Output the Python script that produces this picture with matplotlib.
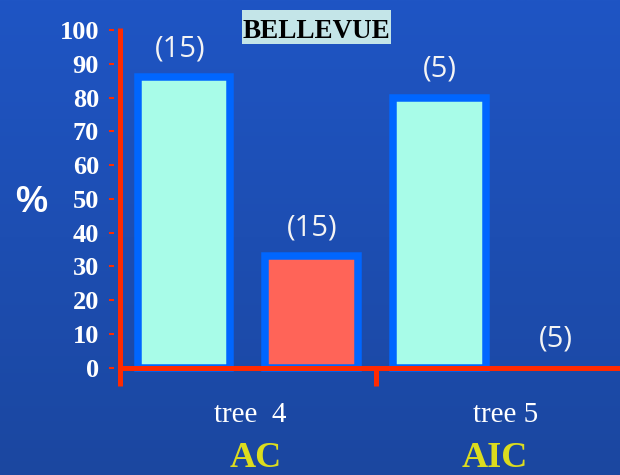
import numpy as np
import matplotlib
matplotlib.use("Agg")
import matplotlib.pyplot as plt
from matplotlib.patches import Rectangle
from matplotlib.transforms import blended_transform_factory

# --- data ---------------------------------------------------------------
bar_values = [86, 33, 80, 0]                 # percent
bar_counts = ["(15)", "(15)", "(5)", "(5)"]  # number of cases per bar
group_labels = ["tree  4", "tree 5"]
group_tags = ["AC", "AIC"]
y_ticks = [0, 10, 20, 30, 40, 50, 60, 70, 80, 90, 100]
title = "BELLEVUE"

# --- style --------------------------------------------------------------
W, H = 620, 475
DPI = 100
PX = 72.0 / DPI  # points per pixel

bg_top = np.array([31, 85, 196]) / 255
bg_bot = np.array([27, 71, 160]) / 255
axis_red = "#ff2a00"
edge_blue = "#0066ff"
fills = ["#a8fce8", "#ff6458", "#a8fce8", "#a8fce8"]
yellow = "#dcdc1e"

fig = plt.figure(figsize=(W / DPI, H / DPI), dpi=DPI)

# vertical background gradient
bg = fig.add_axes([0, 0, 1, 1], zorder=-10)
grad = np.linspace(0, 1, 256)[:, None, None]
img = bg_top[None, None, :] * (1 - grad) + bg_bot[None, None, :] * grad
bg.imshow(img, aspect="auto", extent=[0, 1, 0, 1])
bg.set_axis_off()

# plot area in pixels: left 109, right 620, top 28, bottom 386
ax = fig.add_axes([109 / W, 1 - 386 / H, (620 - 109) / W, (386 - 28) / H])
ax.patch.set_alpha(0)
ax.set_xlim(-0.587, 3.414)
ax.set_ylim(-5.42, 100.6)
for s in ax.spines.values():
    s.set_visible(False)

x = np.arange(len(bar_values))
lws = [7.5 * PX if v > 0 else 0 for v in bar_values]
ax.bar(x, bar_values, width=0.724, color=fills, edgecolor=edge_blue,
       linewidth=lws, zorder=2)

# count labels above the bars (the empty bar's label sits a bit to the left)
label_dx = [-3, 0, 0, -8]
for xi, v, c, dx in zip(x, bar_values, bar_counts, label_dx):
    ax.annotate(c, (xi, v), xytext=(dx, 15), textcoords="offset points",
                ha="center", va="baseline", color="#f4f4f4",
                fontsize=21, family="Open Sans", zorder=5)

# axes drawn as thick red lines
ax.plot([-0.5, -0.5], [-5.42, 100.6], color=axis_red, lw=5 * PX,
        solid_capstyle="butt", clip_on=False, zorder=4)
ax.plot([-0.52, 3.414], [0, 0], color=axis_red, lw=5 * PX,
        solid_capstyle="butt", clip_on=False, zorder=4)
ax.plot([1.5, 1.5], [-5.42, 0], color=axis_red, lw=5 * PX,
        solid_capstyle="butt", clip_on=False, zorder=4)

ax.set_yticks(y_ticks)
ax.set_xticks([])
ax.tick_params(axis="y", direction="in", length=5 * PX, width=2 * PX,
               color=axis_red, pad=10 * PX, labelcolor="white",
               labelsize=19)
for t in ax.get_yticklabels():
    t.set_family("Liberation Serif")
    t.set_fontweight("bold")

# group labels under the axis
trans = blended_transform_factory(ax.transData, fig.transFigure)
group_centers = [0.5, 2.5]
tag_shift = [0.06, -0.065]
for gc, lab, tag, dx in zip(group_centers, group_labels, group_tags, tag_shift):
    ax.text(gc + 0.02, 1 - 421.7 / H, lab, transform=trans, ha="center",
            va="baseline", color="white", fontsize=21,
            family="Liberation Serif", clip_on=False)
    ax.text(gc + dx, 1 - 467.0 / H, tag, transform=trans, ha="center",
            va="baseline", color=yellow, fontsize=26, fontweight="bold",
            family="Liberation Serif", clip_on=False)

# y axis unit
fig.text(31 / W, 1 - 211.7 / H, "%", ha="center", va="baseline",
         color="white", fontsize=26, fontweight="bold",
         family="Liberation Sans")

# boxed title
fig.add_artist(Rectangle((241.7 / W, 1 - 44 / H), (391 - 241.7) / W, 34 / H,
                         transform=fig.transFigure, facecolor="#c4e5e8",
                         edgecolor="none", zorder=5))
fig.text(316.3 / W, 1 - 38.3 / H, title, ha="center", va="baseline",
         color="black", fontsize=19.5, fontweight="bold",
         family="Liberation Serif", zorder=6)

fig.savefig("out.png", dpi=DPI)
